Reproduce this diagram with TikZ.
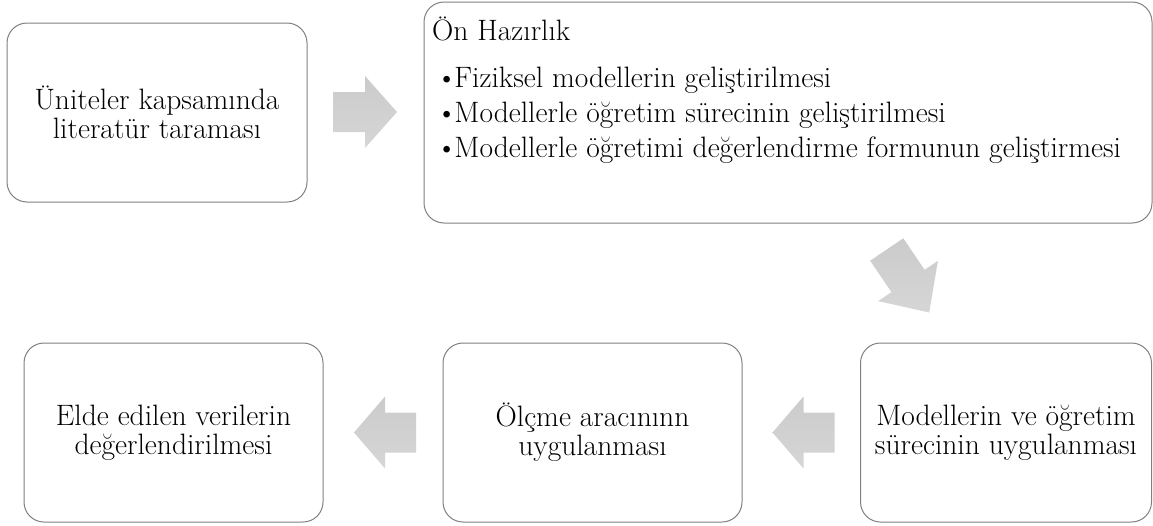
\documentclass[tikz,border=0pt]{standalone}
\usepackage{fontspec}
\usetikzlibrary{positioning}

\definecolor{arrowtop}{HTML}{CBCBCB}
\definecolor{arrowbot}{HTML}{D6D6D6}
\newcommand{\stagebullet}{\textbullet\kern-3pt}

\begin{document}
\begin{tikzpicture}
[x=1pt, y=-1pt, black!50, text=black,
stage/.style = {rectangle, rounded corners=20pt, draw=black!50, line width=1pt,
                minimum width=#1, font=\fontsize{29.5}{29}\selectfont, align=center},
stagetext/.style = {anchor=base west, inner sep=0pt, font=\fontsize{29.5}{29}\selectfont},
pics/blockarrow/.style = {code={
  \shade[top color=arrowtop, bottom color=arrowbot]
    (-#1,-20) -- (0,-20) -- (0,-36) -- (#1,0) -- (0,36) -- (0,20) -- (-#1,20) -- cycle;}}]
\useasboundingbox (0,0) rectangle (1153,525);
% top row
\node[stage=300pt, minimum height=179pt] (lit) at (157,112.5)
  {Üniteler kapsamında\\literatür taraması};
\node[stage=728pt, minimum height=221pt] (prep) at (788,112.5) {};
\node[stagetext] (prephead) at (432,40) {Ön Hazırlık};
\node[stagetext] (prepa) at (436,87) {\stagebullet Fiziksel modellerin geliştirilmesi};
\node[stagetext] (prepb) at (436,122) {\stagebullet Modellerle öğretim sürecinin geliştirilmesi};
\node[stagetext] (prepc) at (436,157) {\stagebullet Modellerle öğretimi değerlendirme formunun geliştirmesi};
% bottom row
\node[stage=291pt, minimum height=179pt] (apply) at (1006,432.5)
  {Modellerin ve öğretim\\sürecinin uygulanması};
\node[stage=299pt, minimum height=179pt] (meas) at (592.5,432.5)
  {Ölçme aracınınn\\uygulanması};
\node[stage=299pt, minimum height=179pt] (eval) at (173.5,432.5)
  {Elde edilen verilerin\\değerlendirilmesi};
% block arrows
\pic at (365,112) {blockarrow=32};
\pic[rotate=-56] at (908,281) {blockarrow=38};
\pic[rotate=180] at (803.5,432.5) {blockarrow=31};
\pic[rotate=180] at (385,432.5) {blockarrow=31};
\end{tikzpicture}
\end{document}
